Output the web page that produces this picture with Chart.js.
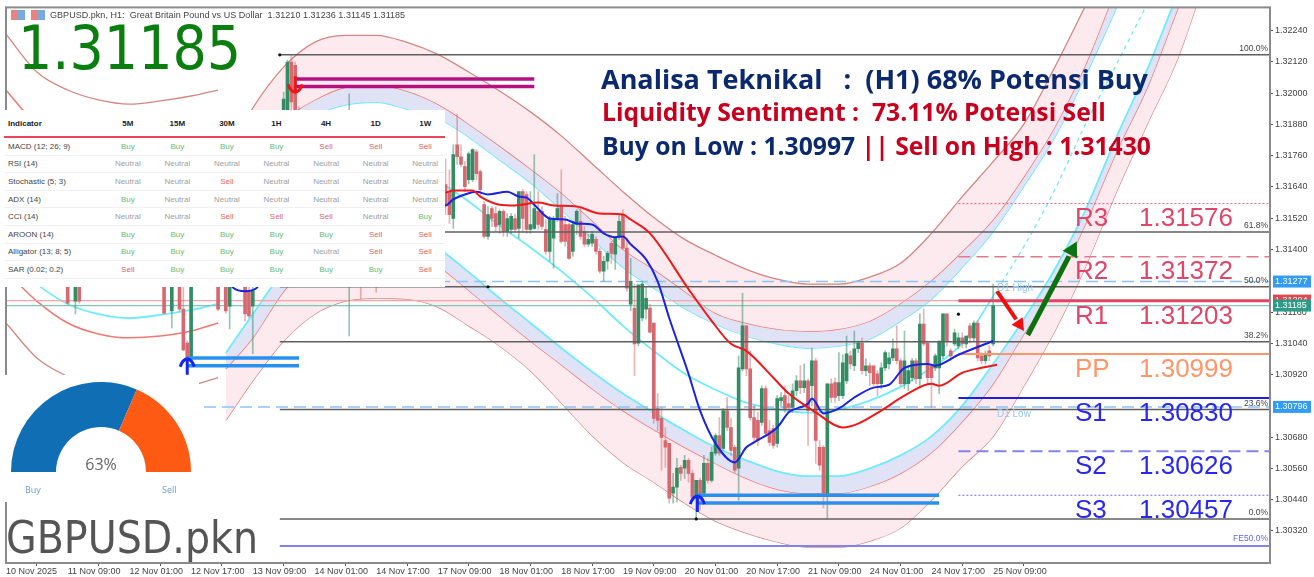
<!DOCTYPE html>
<html>
<head>
<meta charset="utf-8">
<title>GBPUSD.pkn H1</title>
<script src="https://cdn.jsdelivr.net/npm/chart.js@4/dist/chart.umd.js"></script>
<style>
  html, body { margin: 0; padding: 0; background: #fff; }
  #page { position: relative; width: 1314px; height: 577px; overflow: hidden; filter: blur(0.55px); }
  #page > * { position: absolute; }
  .head { font-family: "Open Sans", sans-serif; font-weight: 700; white-space: pre; line-height: 1; }
  #title { left: 50px; top: 10px; font: 9px "Liberation Sans", sans-serif; color: #444; white-space: pre; letter-spacing: 0.04px; }
  #bigPrice { left: 18px; top: 11px; font: 60px "DejaVu Sans Condensed", "DejaVu Sans", sans-serif; color: #0a7f10; line-height: 75px; }
  #symbol { left: 6px; top: 508px; font: 44px "DejaVu Sans Condensed", "DejaVu Sans", sans-serif; color: #555; line-height: 60px; }
  #signals { left: 4px; top: 110px; width: 441px; height: 177px; background: #fff; overflow: hidden; font: 8px "Liberation Sans", sans-serif; color: #444; }
  #signals table { border-collapse: collapse; table-layout: fixed; width: 446px; }
  #signals th { height: 26px; padding: 0; font-weight: 700; color: #222; border-bottom: 2px solid #ee4458; }
  #signals td { height: 16.6px; padding: 0; text-align: center; border-bottom: 1px solid #f0f0f0; }
  #signals th:first-child, #signals td:first-child { text-align: left; padding-left: 4px; width: 95px; }
  #gaugeBox { left: 0; top: 375px; width: 199px; height: 127px; background: #fff; }
  #gaugeChart { position: absolute; left: 11px; top: 7px; }
  #gaugeText { position: absolute; left: 61px; width: 80px; top: 78px; text-align: center; font: 16px "Open Sans", sans-serif; color: #666; }
  .gaugeLabel { position: absolute; top: 108px; font: 9px "Open Sans", sans-serif; color: #6c9fd0; }
</style>
</head>
<body>
<div id="page">
  <canvas id="priceChart" width="1314" height="577"></canvas>
  <div id="title">GBPUSD.pkn, H1:  Great Britain Pound vs US Dollar  1.31210 1.31236 1.31145 1.31185</div>
  <div id="bigPrice">1.31185</div>
  <div class="head" style="left:601px;top:65px;font-size:27px;color:#0b2a6e">Analisa Teknikal   :  (H1) 68% Potensi Buy</div>
  <div class="head" style="left:602px;top:100px;font-size:24.7px;color:#c8001e">Liquidity Sentiment :  73.11% Potensi Sell</div>
  <div class="head" style="left:602px;top:134px;font-size:24.7px;color:#0b2a6e">Buy on Low : 1.30997 <span style="color:#c8001e">|| Sell on High : 1.31430</span></div>
  <div id="signals"></div>
  <div id="gaugeBox">
    <canvas id="gaugeChart" width="180" height="90"></canvas>
    <div id="gaugeText">63%</div>
    <div class="gaugeLabel" style="left:25px">Buy</div>
    <div class="gaugeLabel" style="left:162px">Sell</div>
  </div>
  <div id="symbol">GBPUSD.pkn</div>
</div>

<script>
// candles, only the ones that can be seen around the panels
const barIndex = [16,18,19,41,43,45,46,47,48,55,57,58,62,63,64,72,73,74,75,76,89,92,96,
  114,115,116,117,118,119,120,121,122,123,124,125,126,127,128,129,130,131,132,133,134,135,
  136,137,138,139,140,141,142,143,144,145,146,147,148,149,150,151,152,153,154,155,156,157,
  158,159,160,161,162,163,164,165,166,167,168,169,170,171,172,173,174,175,176,177,178,179,
  180,181,182,183,184,185,186,187,188,189,190,191,192,193,194,195,196,197,198,199,200,201,
  202,203,204,205,206,207,208,209,210,211,212,213,214,215,216,217,218,219,220,221,222,223,
  224,225,226,227,228,229,230,231,232,233,234,235,236,237,238,239,240,241,242,243,244,245,
  246,247,248,249,250,251,252,253,254,255,256];
const opens = [1.31317,1.31202,1.31317,1.31336,1.31164,1.31336,1.31171,1.31041,1.30988,1.31298,1.31317,1.31183,1.31278,1.31240,1.31183,1.31584,1.31622,1.32119,1.32107,1.31928,1.31584,1.31508,1.31508,
  1.31649,1.31622,1.31519,1.31802,1.31756,1.31718,1.31668,1.31668,1.31775,1.31699,1.31572,1.31450,1.31557,1.31538,1.31496,1.31546,1.31469,1.31477,1.31519,1.31481,1.31622,1.31611,
  1.31477,1.31481,1.31546,1.31546,1.31477,1.31393,1.31443,1.31519,1.31565,1.31496,1.31496,1.31393,1.31496,1.31508,1.31469,1.31420,1.31424,1.31439,1.31393,1.31317,1.31355,1.31424,
  1.31382,1.31450,1.31534,1.31405,1.31190,1.31175,1.31041,1.31137,1.31171,1.31175,1.31118,1.30790,1.30752,1.30667,1.30656,1.30465,1.30488,1.30564,1.30561,1.30591,1.30541,1.30450,
  1.30514,1.30465,1.30579,1.30514,1.30618,1.30686,1.30637,1.30782,1.30717,1.30641,1.30561,1.30942,1.31107,1.30942,1.30755,1.30744,1.30736,1.30866,1.30705,1.30713,1.30656,1.30820,
  1.30839,1.30809,1.30794,1.30858,1.30896,1.30870,1.30896,1.30877,1.30973,1.30641,1.30641,1.30465,1.30885,1.30889,1.30839,1.30839,1.30896,1.30992,1.30954,1.31019,1.31041,1.30935,
  1.30954,1.30954,1.30923,1.30885,1.30946,1.30961,1.30984,1.31019,1.30973,1.30885,1.30885,1.30908,1.30973,1.30904,1.31114,1.31041,1.30954,1.30946,1.30946,1.30992,1.31153,1.31011,
  1.31038,1.31030,1.31061,1.31038,1.31107,1.31061,1.31118,1.30992,1.30973,1.31011,1.31038];
const highs = [1.31355,1.31393,1.31355,1.31393,1.31393,1.31393,1.31317,1.31049,1.31584,1.31355,1.31355,1.31393,1.31317,1.31317,1.31660,1.32004,1.32127,1.32149,1.32119,1.31947,1.31997,1.31584,1.31584,
  1.31748,1.31706,1.31802,1.31920,1.31802,1.31737,1.31775,1.31786,1.31783,1.31706,1.31584,1.31565,1.31565,1.31565,1.31553,1.31553,1.31538,1.31538,1.31534,1.31622,1.31630,1.31622,
  1.31622,1.31764,1.31622,1.31565,1.31515,1.31527,1.31527,1.31615,1.31706,1.31527,1.31500,1.31508,1.31553,1.31557,1.31489,1.31458,1.31469,1.31450,1.31405,1.31374,1.31393,1.31431,
  1.31450,1.31534,1.31553,1.31443,1.31366,1.31267,1.31267,1.31278,1.31259,1.31190,1.31118,1.30847,1.30794,1.30717,1.30656,1.30541,1.30599,1.30572,1.30610,1.30599,1.30553,1.30514,
  1.30522,1.30610,1.30599,1.30641,1.30694,1.30755,1.30790,1.30832,1.30752,1.30648,1.30992,1.31233,1.31107,1.31011,1.30801,1.30775,1.30877,1.30877,1.30744,1.30725,1.30839,1.30851,
  1.30877,1.30839,1.30885,1.30916,1.30954,1.30961,1.30904,1.31022,1.30981,1.30667,1.30648,1.30885,1.30904,1.30908,1.31004,1.30996,1.31068,1.31011,1.31087,1.31049,1.31061,1.30981,
  1.30965,1.30954,1.30935,1.30965,1.31011,1.31004,1.31057,1.31107,1.30981,1.31087,1.30954,1.30981,1.30981,1.31153,1.31171,1.31049,1.30954,1.31000,1.31049,1.31153,1.31153,1.31019,
  1.31095,1.31080,1.31080,1.31068,1.31118,1.31126,1.31126,1.31004,1.31011,1.31030,1.31267];
const lows = [1.31190,1.31153,1.31194,1.31153,1.31099,1.31164,1.31011,1.30927,1.30981,1.31164,1.31156,1.31095,1.31126,1.31137,1.31000,1.31546,1.31603,1.31928,1.31737,1.31737,1.31068,1.31210,1.31236,
  1.31534,1.31500,1.31481,1.31726,1.31718,1.31622,1.31653,1.31660,1.31668,1.31603,1.31443,1.31439,1.31489,1.31469,1.31462,1.31450,1.31450,1.31462,1.31469,1.31443,1.31469,1.31462,
  1.31462,1.31477,1.31477,1.31477,1.31382,1.31355,1.31328,1.31508,1.31424,1.31412,1.31362,1.31374,1.31458,1.31439,1.31412,1.31412,1.31412,1.31382,1.31309,1.31278,1.31324,1.31347,
  1.31324,1.31439,1.31401,1.31240,1.31164,1.30916,1.31030,1.31126,1.31134,1.31079,1.30733,1.30705,1.30553,1.30564,1.30427,1.30427,1.30431,1.30514,1.30522,1.30507,1.30438,1.30369,
  1.30400,1.30457,1.30503,1.30507,1.30610,1.30610,1.30629,1.30705,1.30610,1.30545,1.30438,1.30935,1.30916,1.30744,1.30667,1.30648,1.30725,1.30683,1.30648,1.30637,1.30641,1.30801,
  1.30775,1.30782,1.30775,1.30839,1.30847,1.30851,1.30648,1.30801,1.30579,1.30553,1.30408,1.30369,1.30813,1.30813,1.30820,1.30828,1.30885,1.30942,1.30935,1.31004,1.30923,1.30916,
  1.30877,1.30877,1.30839,1.30866,1.30935,1.30942,1.30973,1.30961,1.30877,1.30866,1.30858,1.30896,1.30885,1.30870,1.31030,1.30885,1.30794,1.30935,1.30847,1.30981,1.31030,1.30973,
  1.31030,1.31019,1.31022,1.31022,1.31041,1.31049,1.30973,1.30961,1.30961,1.30973,1.31030];
const closes = [1.31194,1.31317,1.31202,1.31156,1.31336,1.31171,1.31015,1.30973,1.31508,1.31171,1.31164,1.31317,1.31153,1.31145,1.31240,1.31977,1.32119,1.31966,1.31775,1.31775,1.31775,1.31431,1.31431,
  1.31572,1.31534,1.31764,1.31756,1.31726,1.31641,1.31767,1.31783,1.31691,1.31630,1.31450,1.31534,1.31519,1.31489,1.31546,1.31469,1.31519,1.31527,1.31477,1.31622,1.31519,1.31477,
  1.31496,1.31557,1.31496,1.31489,1.31393,1.31519,1.31519,1.31557,1.31431,1.31431,1.31366,1.31496,1.31546,1.31450,1.31420,1.31439,1.31458,1.31393,1.31317,1.31355,1.31385,1.31385,
  1.31443,1.31508,1.31405,1.31252,1.31278,1.31038,1.31263,1.31267,1.31213,1.31083,1.30752,1.30744,1.30679,1.30641,1.30446,1.30488,1.30561,1.30541,1.30591,1.30541,1.30450,1.30514,
  1.30450,1.30579,1.30514,1.30622,1.30686,1.30618,1.30782,1.30717,1.30629,1.30553,1.30946,1.31107,1.30942,1.30755,1.30679,1.30667,1.30866,1.30694,1.30660,1.30648,1.30828,1.30832,
  1.30790,1.30794,1.30858,1.30896,1.30870,1.30896,1.30782,1.30973,1.30667,1.30572,1.30465,1.30885,1.30832,1.30832,1.30889,1.30965,1.31000,1.30961,1.31019,1.31041,1.30935,1.30954,
  1.30927,1.30885,1.30885,1.30946,1.31004,1.30984,1.31019,1.30973,1.30885,1.30973,1.30935,1.30973,1.30904,1.31114,1.31038,1.30908,1.30908,1.30992,1.31049,1.31153,1.31049,1.30992,
  1.31080,1.31061,1.31038,1.31068,1.31061,1.31118,1.30984,1.30973,1.31000,1.30992,1.31185];

// moving averages
const blueBars = [56,59,62,65,70,114,116,119,122,125,130,133,135,137,141,145,148,152,155,158,160,162,166,169,172,177,180,184,189,192,194,200,203,208,209,212,216,220,225,229,233,239,241,247,256];
const blueValues = [1.31317,1.31252,1.31240,1.31252,1.31469,1.31569,1.31592,1.31611,1.31622,1.31611,1.31622,1.31603,1.31599,1.31572,1.31519,1.31515,1.31500,1.31496,1.31462,1.31447,1.31450,1.31420,1.31362,1.31278,1.31137,1.30923,1.30782,1.30656,1.30583,1.30641,1.30660,1.30717,1.30775,1.30809,1.30828,1.30771,1.30790,1.30832,1.30870,1.30881,1.30946,1.30961,1.30954,1.30996,1.31049];
const redBars = [114,116,121,123,128,132,138,142,148,154,160,162,167,177,183,188,192,199,203,210,217,221,227,233,240,242,248,253,257];
const redValues = [1.31618,1.31626,1.31626,1.31603,1.31572,1.31569,1.31580,1.31569,1.31565,1.31538,1.31534,1.31515,1.31462,1.31248,1.31126,1.31038,1.31011,1.30908,1.30847,1.30775,1.30717,1.30732,1.30782,1.30839,1.30885,1.30877,1.30927,1.30946,1.30958];

// channel curves, all on the same bars
const channelBars = [57,64,72,80,88,96,104,112,120,128,136,144,152,160,168,176,184,192,200,208,216,224,232,240,248,256,264,272,280,288,296,304,312];
const upperOuter = [1.31756,1.31943,1.32100,1.32195,1.32222,1.32222,1.32195,1.32149,1.32081,1.32008,1.31928,1.31836,1.31729,1.31622,1.31523,1.31439,1.31378,1.31324,1.31286,1.31267,1.31267,1.31294,1.31347,1.31462,1.31603,1.31737,1.31882,1.32100,1.32337,1.32577,1.32806,1.33036,1.33265];
const upperRed = [1.31565,1.31775,1.31897,1.31974,1.32023,1.32031,1.32008,1.31958,1.31882,1.31798,1.31710,1.31618,1.31511,1.31401,1.31324,1.31240,1.31156,1.31118,1.31095,1.31087,1.31095,1.31126,1.31194,1.31282,1.31393,1.31515,1.31680,1.31871,1.32111,1.32405,1.32673,1.32921,1.33150];
const upperCyan = [1.31489,1.31718,1.31851,1.31916,1.31955,1.31966,1.31939,1.31905,1.31832,1.31744,1.31657,1.31553,1.31443,1.31332,1.31252,1.31175,1.31114,1.31068,1.31038,1.31022,1.31030,1.31057,1.31126,1.31210,1.31332,1.31469,1.31645,1.31832,1.32069,1.32329,1.32596,1.32845,1.33074];
const lowerCyan = [1.31003,1.31152,1.31317,1.31431,1.31500,1.31519,1.31489,1.31408,1.31313,1.31213,1.31118,1.31022,1.30931,1.30847,1.30774,1.30705,1.30641,1.30591,1.30549,1.30530,1.30530,1.30560,1.30610,1.30683,1.30801,1.30961,1.31133,1.31324,1.31553,1.31832,1.32092,1.32386,1.32654];
const lowerRed = [1.30942,1.31061,1.31240,1.31362,1.31439,1.31458,1.31427,1.31340,1.31244,1.31145,1.31049,1.30958,1.30866,1.30782,1.30709,1.30641,1.30579,1.30522,1.30480,1.30465,1.30465,1.30491,1.30541,1.30621,1.30740,1.30885,1.31076,1.31256,1.31500,1.31775,1.32023,1.32329,1.32615];
const lowerOuter = [1.30744,1.30896,1.31049,1.31152,1.31202,1.31213,1.31210,1.31179,1.31107,1.31030,1.30935,1.30812,1.30686,1.30583,1.30507,1.30427,1.30358,1.30312,1.30278,1.30258,1.30258,1.30281,1.30331,1.30438,1.30568,1.30683,1.30877,1.31087,1.31336,1.31622,1.31882,1.32138,1.32482];
const middleBars = [57,64,72,80,88,96,104,112,120,128,136,144,152,160,168,176,184,192,200,208,216,224,232,240,248,256];
const middleLine = [1.31317,1.31450,1.31565,1.31660,1.31699,1.31718,1.31699,1.31660,1.31584,1.31492,1.31408,1.31317,1.31217,1.31107,1.31011,1.30923,1.30862,1.30812,1.30786,1.30774,1.30786,1.30820,1.30873,1.30946,1.31041,1.31221];
const forecastBars = [256,264,272,280,288,296,304];
const forecastLine = [1.31221,1.31412,1.31630,1.31882,1.32111,1.32344,1.32577];

// the older channel that stops at bar 55
const oldBars = [0,8,16,24,32,40,48,55];
const oldTop = [1.32226,1.32081,1.32012,1.31974,1.31958,1.31970,1.31989,1.32012];
const oldRed = [1.31317,1.31202,1.31118,1.31076,1.31061,1.31068,1.31087,1.31118];
const oldCyan = [1.31374,1.31267,1.31191,1.31152,1.31137,1.31149,1.31168,1.31191];
const oldBottom = [1.31118,1.30984,1.30912,1.30858,1.30839,1.30847,1.30877,1.30908];
const oldStubBars = [0,8];
const oldStubRed = [1.32012,1.31870];
const oldStubCyan = [1.31935,1.31775];

// levels
const pivotNames = ["R3","R2","R1","PP","S1","S2","S3"];
const pivotValues = [1.31576,1.31372,1.31203,1.30999,1.30830,1.30626,1.30457];
const fibNames = ["100.0%","61.8%","50.0%","38.2%","23.6%","0.0%"];
const fibValues = [1.32147,1.31467,1.31257,1.31046,1.30786,1.30366];
const feName = "FE50.0%";
const feValue = 1.30262;
const dayHigh = 1.31277;
const dayLow = 1.30796;
const askPrice = 1.31204;
const bidPrice = 1.31185;

// zones: start bar, end bar, two prices
const sellZone = [75, 137, 1.32054, 1.32025];
const buyZoneA = [47, 76, 1.30984, 1.30954];
const buyZoneB = [179, 242, 1.30457, 1.30427];
const dotBars = [71, 125, 247, 179];
const dotValues = [1.32147, 1.31257, 1.31152, 1.30366];

const xTickBars = [0,16,32,48,64,80,96,112,128,144,160,176,192,208,224,240,256];
const xTickLabels = ["10 Nov 2025","11 Nov 09:00","12 Nov 01:00","12 Nov 17:00","13 Nov 09:00","14 Nov 01:00","14 Nov 17:00","17 Nov 09:00","18 Nov 01:00","18 Nov 17:00","19 Nov 09:00","20 Nov 01:00","20 Nov 17:00","21 Nov 09:00","24 Nov 01:00","24 Nov 17:00","25 Nov 09:00"];
const yTicks = [1.32240,1.32120,1.32000,1.31880,1.31760,1.31640,1.31520,1.31400,1.31160,1.31040,1.30920,1.30680,1.30560,1.30440,1.30320];

// signal table
const timeframes = ["5M","15M","30M","1H","4H","1D","1W"];
const indicators = ["MACD (12; 26; 9)","RSI (14)","Stochastic (5; 3)","ADX (14)","CCI (14)","AROON (14)","Alligator (13; 8; 5)","SAR (0.02; 0.2)"];
const macdRow = ["Buy","Buy","Buy","Buy","Sell","Sell","Sell"];
const rsiRow = ["Neutral","Neutral","Neutral","Neutral","Neutral","Neutral","Neutral"];
const stochRow = ["Neutral","Neutral","Sell","Neutral","Neutral","Neutral","Neutral"];
const adxRow = ["Buy","Neutral","Neutral","Neutral","Neutral","Neutral","Neutral"];
const cciRow = ["Neutral","Neutral","Sell","Sell","Sell","Neutral","Buy"];
const aroonRow = ["Buy","Buy","Buy","Buy","Buy","Sell","Sell"];
const alligatorRow = ["Buy","Buy","Buy","Buy","Neutral","Sell","Sell"];
const sarRow = ["Sell","Buy","Buy","Buy","Buy","Buy","Sell"];

const gaugeLabels = ["Buy","Sell"];
const gaugeValues = [63,37];

const brown = "rgb(212,135,130)";
const softRed = "rgb(240,120,115)";
const cyan = "rgb(110,236,250)";
const pink = "rgb(253,234,238)";
const lavender = "rgb(224,226,246)";
const up = "rgb(50,140,100)";
const down = "rgb(214,105,112)";

function pairs(xs, ys) {
    return xs.map((x, i) => ({x: x, y: ys[i]}));
}

function line(xs, ys, color, width, order, extra) {
    return Object.assign({
        type: "line", data: pairs(xs, ys), borderColor: color, borderWidth: width,
        pointRadius: 0, order: order, fill: false
    }, extra || {});
}

function level(value, fromBar, color, width, order, dash) {
    return line([fromBar, 328], [value, value], color, width, order, {borderDash: dash || []});
}

function zone(z, color) {
    return [line([z[0], z[1]], [z[2], z[2]], color, 3.5, 1), line([z[0], z[1]], [z[3], z[3]], color, 3.5, 1)];
}

const wicks = barIndex.map((b, i) => ({x: b, y: [lows[i], highs[i]]}));
const bodies = barIndex.map((b, i) => ({x: b, y: [opens[i], closes[i]]}));
const wickColors = barIndex.map((b, i) => closes[i] >= opens[i] ? "rgba(50,140,100,.5)" : "rgba(214,105,112,.5)");
const bodyColors = barIndex.map((b, i) => closes[i] >= opens[i] ? up : down);

// first six stay in this order, the fills point at them by index
const datasets = [
    line(channelBars, upperOuter, brown, 1.3, 12, {fill: 1, backgroundColor: pink}),
    line(channelBars, upperRed, softRed, 1.5, 12, {fill: 2, backgroundColor: lavender}),
    line(channelBars, upperCyan, cyan, 1.8, 12),
    line(channelBars, lowerCyan, cyan, 1.8, 12, {fill: 4, backgroundColor: lavender}),
    line(channelBars, lowerRed, softRed, 1.5, 12, {fill: 5, backgroundColor: pink}),
    line(channelBars, lowerOuter, brown, 1.3, 12),
    line(middleBars, middleLine, cyan, 1.8, 11),
    line(forecastBars, forecastLine, cyan, 1.3, 11, {borderDash: [4, 4]}),
    line(oldBars, oldTop, brown, 1.3, 11),
    line(oldBars, oldRed, softRed, 1.5, 11),
    line(oldBars, oldCyan, cyan, 1.8, 11),
    line(oldBars, oldBottom, brown, 1.3, 11),
    line(oldStubBars, oldStubRed, softRed, 1.5, 11),
    line(oldStubBars, oldStubCyan, cyan, 1.8, 11),
    {type: "bar", data: wicks, backgroundColor: wickColors, barThickness: 1, grouped: false, order: 6},
    {type: "bar", data: bodies, backgroundColor: bodyColors, barThickness: 3, grouped: false, minBarLength: 1, order: 5},
    level(askPrice, 0, "rgb(245,165,165)", 1.3, 7),
    level(bidPrice, 0, "rgb(130,200,185)", 1.3, 7),
    level(dayHigh, 0, "rgb(140,196,248)", 1.5, 8, [12, 6]),
    level(dayLow, 0, "rgb(140,196,248)", 1.5, 8, [12, 6]),
    level(feValue, 71, "rgb(130,130,240)", 2, 8),
    level(pivotValues[0], 247, "rgb(228,90,120)", 1, 4, [2, 2]),
    level(pivotValues[1], 247, "rgb(228,120,140)", 1.6, 4, [12, 6]),
    level(pivotValues[2], 247, "rgb(224,70,100)", 3, 4),
    level(pivotValues[3], 247, "rgb(255,150,105)", 2, 4),
    level(pivotValues[4], 247, "rgb(30,30,225)", 2, 4),
    level(pivotValues[5], 247, "rgb(130,130,240)", 2, 4, [12, 6]),
    level(pivotValues[6], 247, "rgb(100,100,240)", 1, 4, [2, 2]),
    line(redBars, redValues, "rgb(240,25,25)", 2, 2, {cubicInterpolationMode: "monotone"}),
    line(blueBars, blueValues, "rgb(25,35,225)", 2, 2, {cubicInterpolationMode: "monotone"}),
    line(dotBars, dotValues, "#111", 0, 1, {showLine: false, pointRadius: 1.6, pointBackgroundColor: "#111"})
];
fibValues.forEach(v => datasets.push(level(v, 71, "rgb(95,95,95)", 1.5, 3)));
for (const d of datasets.slice(0, 14)) d.cubicInterpolationMode = "monotone";
datasets.push(...zone(sellZone, "rgb(180,18,128)"), ...zone(buyZoneA, "rgb(40,145,240)"), ...zone(buyZoneB, "rgb(40,145,240)"));

function arrow(ctx, x1, y1, x2, y2, color, width, head) {
    const a = Math.atan2(y2 - y1, x2 - x1);
    ctx.strokeStyle = color;
    ctx.fillStyle = color;
    ctx.lineWidth = width;
    ctx.beginPath();
    ctx.moveTo(x1, y1);
    ctx.lineTo(x2 - Math.cos(a) * head, y2 - Math.sin(a) * head);
    ctx.stroke();
    ctx.beginPath();
    ctx.moveTo(x2, y2);
    ctx.lineTo(x2 - head * Math.cos(a - .5), y2 - head * Math.sin(a - .5));
    ctx.lineTo(x2 - head * Math.cos(a + .5), y2 - head * Math.sin(a + .5));
    ctx.fill();
}

// the small thumb arrows of the signal indicator
function thumb(ctx, x, y, color, dir) {
    ctx.strokeStyle = color;
    ctx.lineWidth = 3;
    ctx.beginPath();
    ctx.moveTo(x, y - 8 * dir);
    ctx.lineTo(x, y + 9 * dir);
    ctx.moveTo(x - 7, y + 1 * dir);
    ctx.quadraticCurveTo(x - 5, y - 6 * dir, x, y - 7 * dir);
    ctx.quadraticCurveTo(x + 5, y - 6 * dir, x + 7, y + 1 * dir);
    ctx.stroke();
}

const extras = {
    id: "extras",
    afterDatasetsDraw(chart) {
        const ctx = chart.ctx, sx = chart.scales.x, sy = chart.scales.y, area = chart.chartArea;
        const px = b => sx.getPixelForValue(b), py = v => sy.getPixelForValue(v);
        ctx.save();
        ctx.textBaseline = "middle";

        thumb(ctx, px(47), py(1.30954), "rgb(15,40,235)", 1);
        thumb(ctx, px(179.3), py(1.30427), "rgb(15,40,235)", 1);
        thumb(ctx, px(75), py(1.32030), "rgb(240,20,20)", -1);

        arrow(ctx, px(257), py(1.31240), px(264), py(1.31087), "rgb(240,15,15)", 4, 14);
        arrow(ctx, px(265), py(1.31072), px(277.7), py(1.31431), "rgb(10,115,15)", 5, 17);

        // pivot names and values sit just under their lines
        ctx.font = '26px "Liberation Sans", sans-serif';
        pivotNames.forEach((n, i) => {
            ctx.fillStyle = i < 3 ? "rgb(224,70,105)" : i === 3 ? "rgb(255,150,105)" : "rgb(40,40,240)";
            const y = py(pivotValues[i]) + 15.5;
            ctx.fillText(n, 1075, y);
            ctx.fillText(pivotValues[i].toFixed(5), 1139, y);
        });

        ctx.font = '8.5px "Liberation Sans", sans-serif';
        ctx.textAlign = "right";
        ctx.fillStyle = "#444";
        fibNames.forEach((n, i) => ctx.fillText(n, 1268, py(fibValues[i]) - 6));
        ctx.fillStyle = "rgb(100,100,235)";
        ctx.fillText(feName, 1268, py(feValue) - 7);

        ctx.textAlign = "left";
        ctx.font = '10px "Liberation Sans", sans-serif';
        ctx.fillStyle = "rgb(150,200,245)";
        ctx.fillText("D1 High", 997, py(dayHigh) + 7);
        ctx.fillText("D1 Low", 997, py(dayLow) + 7);

        // frame
        ctx.strokeStyle = "#8a8a8a";
        ctx.lineWidth = 2;
        ctx.strokeRect(area.left, area.top, area.right - area.left, area.bottom - area.top);

        // price tags on the axis
        const tags = [[dayHigh, "rgb(50,155,245)"], [askPrice, "rgb(225,70,80)"], [bidPrice, "rgb(45,155,135)"], [dayLow, "rgb(50,155,245)"]];
        ctx.font = '9px "Liberation Sans", sans-serif';
        tags.forEach(t => {
            const y = py(t[0]);
            ctx.fillStyle = t[1];
            ctx.fillRect(1273, y - 6, 38, 12);
            ctx.fillStyle = "#fff";
            ctx.fillText(t[0].toFixed(5), 1275, y);
        });

        // toolbar icons next to the title
        ctx.fillStyle = "rgb(235,130,125)";
        ctx.fillRect(11, 10, 14, 10);
        ctx.fillStyle = "rgb(120,170,225)";
        ctx.fillRect(18, 10, 7, 10);
        ctx.fillStyle = "rgb(235,130,125)";
        ctx.fillRect(31, 10, 7, 10);
        ctx.fillStyle = "rgb(120,170,225)";
        ctx.fillRect(38, 10, 7, 10);
        ctx.restore();
    }
};

new Chart(document.getElementById("priceChart"), {
    type: "bar",
    data: {datasets: datasets},
    plugins: [extras],
    options: {
        responsive: false,
        animation: false,
        layout: {padding: {left: 6, top: 5}},
        plugins: {legend: {display: false}, tooltip: {enabled: false}},
        elements: {line: {tension: 0}},
        scales: {
            x: {
                type: "linear", position: "bottom", min: 0, max: 327.8, offset: false,
                grid: {drawOnChartArea: false, tickLength: 3, color: "#555"},
                border: {display: false},
                afterFit: s => { s.height = 14; },
                afterBuildTicks: s => { s.ticks = xTickBars.map(v => ({value: v})); },
                ticks: {
                    autoSkip: false, maxRotation: 0, minRotation: 0, align: "start", padding: 0,
                    color: "#444", font: {family: "Liberation Sans", size: 9},
                    callback: v => xTickLabels[xTickBars.indexOf(v)]
                }
            },
            y: {
                position: "right", min: 1.30197, max: 1.32329,
                grid: {drawOnChartArea: false, tickLength: 3, color: "#555"},
                border: {display: false},
                afterFit: s => { s.width = 44; },
                afterBuildTicks: s => { s.ticks = yTicks.map(v => ({value: v})); },
                ticks: {
                    autoSkip: false, padding: 2, color: "#444",
                    font: {family: "Liberation Sans", size: 9},
                    callback: v => v.toFixed(5)
                }
            }
        }
    }
});

new Chart(document.getElementById("gaugeChart"), {
    type: "doughnut",
    data: {labels: gaugeLabels, datasets: [{data: gaugeValues, backgroundColor: ["rgb(16,110,180)", "rgb(255,90,20)"], borderWidth: 0}]},
    options: {
        responsive: false, animation: false, rotation: -90, circumference: 180, cutout: "50%",
        plugins: {legend: {display: false}, tooltip: {enabled: false}}
    }
});

// signal table from the rows above
const rows = [macdRow, rsiRow, stochRow, adxRow, cciRow, aroonRow, alligatorRow, sarRow];
const signalColor = {Buy: "#63bd74", Sell: "#e0646a", Neutral: "#a0a0a0"};
let html = "<table><tr><th>Indicator</th>" + timeframes.map(t => "<th>" + t + "</th>").join("") + "</tr>";
indicators.forEach((name, i) => {
    html += "<tr><td>" + name + "</td>" + rows[i].map(s => '<td style="color:' + signalColor[s] + '">' + s + "</td>").join("") + "</tr>";
});
document.getElementById("signals").innerHTML = html + "</table>";
</script>
</body>
</html>
